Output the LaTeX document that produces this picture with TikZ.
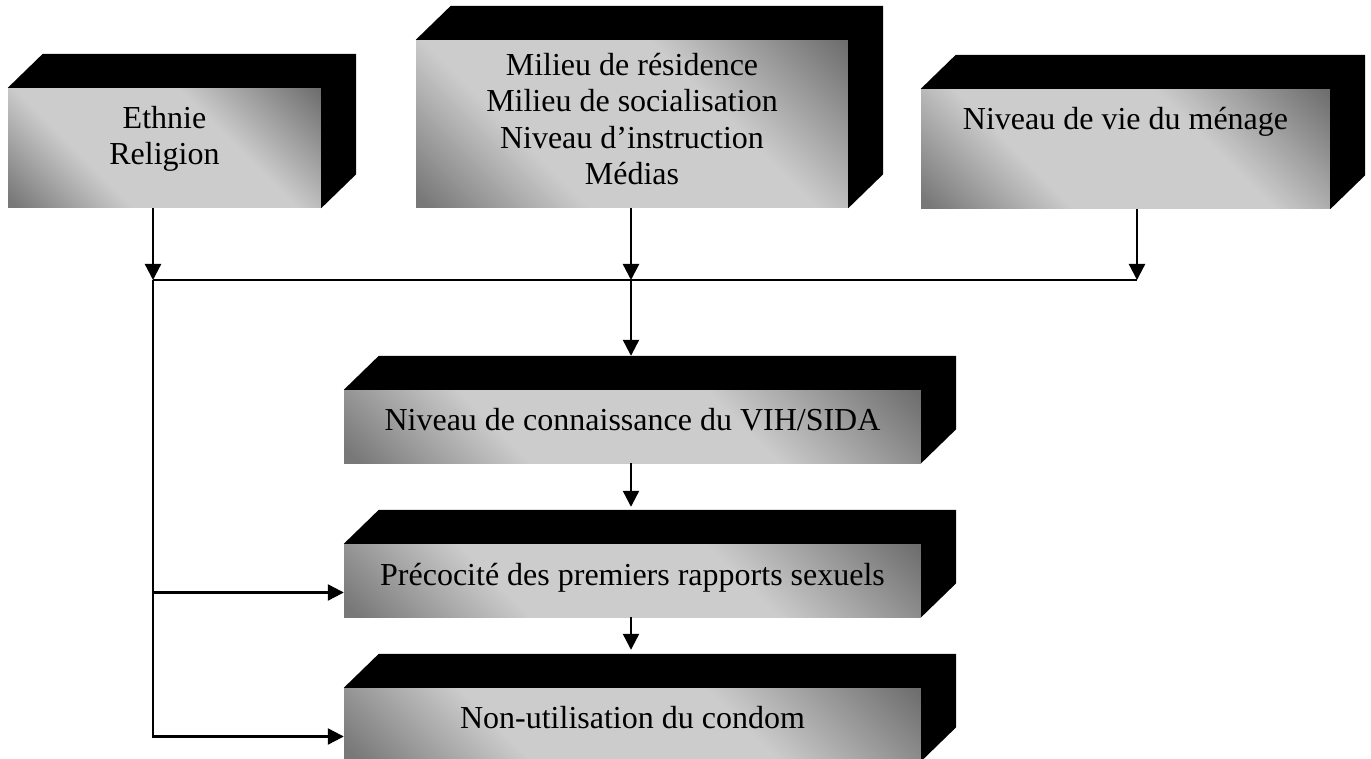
\documentclass[tikz,border=0pt]{standalone}
\usepackage{fontspec}
\setmainfont{Liberation Serif}
\usetikzlibrary{calc,arrows.meta}
\pgfdeclareverticalshading{boxshade}{100bp}{%
  rgb(0bp)=(.45,.45,.45);
  rgb(16bp)=(.47,.47,.47);
  rgb(35bp)=(.80,.80,.80);
  rgb(62bp)=(.80,.80,.80);
  rgb(85bp)=(.43,.43,.43);
  rgb(100bp)=(.42,.42,.42)}
\tikzset{
  front/.style={shade, shading=boxshade, shading angle=-45, inner sep=0pt, draw=none},
  side/.style={fill=black, draw=none},
  lbl/.style={inner sep=0pt, align=center, font=\fontsize{32}{36.5}\selectfont},
  conn/.style={line width=2.3pt, -{Triangle[length=16pt,width=16pt]}},
  plain/.style={line width=2pt}
}
\newcommand{\boxsides}[1]{%
  \fill[side] (#1.north west) -- ++(35,-34) -- ($(#1.north east)+(35,-34)$)
    -- ($(#1.south east)+(35,-34)$) -- (#1.south east) -- (#1.north east) -- cycle;}
\begin{document}
\begin{tikzpicture}[x=1pt,y=-1pt]
\useasboundingbox (0,0) rectangle (1371,759);
% front faces
\node[front, minimum width=313pt, minimum height=120pt] (eth) at (164.5,148) {};
\node[front, minimum width=432pt, minimum height=168pt] (mil) at (632,124) {};
\node[front, minimum width=409pt, minimum height=120pt] (vie) at (1125.5,149) {};
\node[front, minimum width=577pt, minimum height=73pt] (con) at (632.5,426.5) {};
\node[front, minimum width=577pt, minimum height=73pt] (pre) at (632.5,580.5) {};
\node[front, minimum width=577pt, minimum height=73pt] (non) at (632.5,724.5) {};
\boxsides{eth}\boxsides{mil}\boxsides{vie}\boxsides{con}\boxsides{pre}\boxsides{non}
% texts
\node[lbl, anchor=north] (eth-t) at (164.5,106) {Ethnie\\Religion};
\node[lbl, anchor=north] (mil-t) at (632,53) {Milieu de résidence\\Milieu de socialisation\\Niveau d’instruction\\Médias};
\node[lbl, anchor=base] (vie-t) at (1125.5,130) {Niveau de vie du ménage};
\node[lbl, anchor=base] (con-t) at (632.5,430) {Niveau de connaissance du VIH/SIDA};
\node[lbl, anchor=base] (pre-t) at (632.5,585) {Précocité des premiers rapports sexuels};
\node[lbl, anchor=base] (non-t) at (632.5,728) {Non-utilisation du condom};
% junctions
\coordinate (jL) at (153,280);
\coordinate (jM) at (631,280);
\coordinate (jR) at (1137,280);
\coordinate (conT) at ($(con.north)+(0,-34)$);
\coordinate (preT) at ($(pre.north)+(0,-34)$);
\coordinate (nonT) at ($(non.north)+(0,-34)$);
\coordinate (preIn) at ($(pre.west)+(0,12)$);
\coordinate (nonIn) at ($(non.west)+(0,12)$);
% connectors
\draw[conn] (eth.south -| jL) -- (jL);
\draw[conn] (mil.south -| jM) -- (jM);
\draw[conn] (vie.south -| jR) -- (jR);
\draw[plain] (jL) -- (jR);
\draw[conn] (jM) -- (jM |- conT);
\draw[conn, shorten >=3pt] (con.south -| jM) -- (jM |- preT);
\draw[conn, shorten >=4pt] (pre.south -| jM) -- (jM |- nonT);
\draw[conn] (jL) |- (preIn);
\draw[conn] (jL) |- (nonIn);
\end{tikzpicture}
\end{document}
